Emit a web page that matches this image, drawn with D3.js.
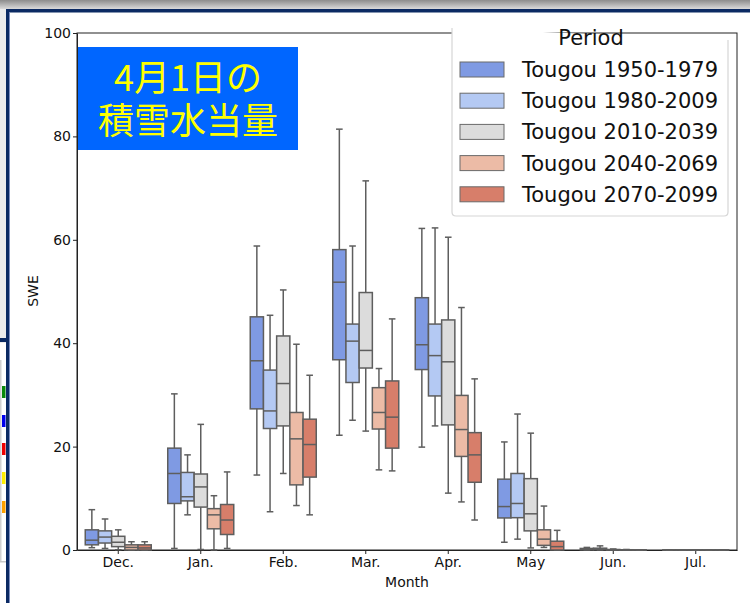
<!DOCTYPE html>
<html>
<head>
<meta charset="utf-8">
<script src="https://cdn.jsdelivr.net/npm/d3@7"></script>
<style>
  body { margin: 0; background: #fff; }
  svg { display: block; font-family: "DejaVu Sans", sans-serif; }
</style>
</head>
<body>
<svg id="main" width="750" height="603"></svg>
<script>
// months on the x axis
var months = ["Dec.", "Jan.", "Feb.", "Mar.", "Apr.", "May", "Jun.", "Jul."]
var periods = ["Tougou 1950-1979", "Tougou 1980-2009", "Tougou 2010-2039", "Tougou 2040-2069", "Tougou 2070-2099"]
var colors = ["#7f9ae3", "#b4c9f3", "#dcdcdc", "#ecbba6", "#d77e6a"]
var yTicks = [0, 20, 40, 60, 80, 100]

// [whisker low, q1, median, q3, whisker high] for every month
var p1950 = [[0.45, 1.0, 1.9, 3.9, 7.8], [0.3, 9.0, 14.8, 19.7, 30.2], [14.5, 27.3, 36.6, 45.1, 58.8],
             [22.2, 36.8, 51.8, 58.1, 81.4], [19.9, 34.9, 39.7, 48.8, 62.2], [1.5, 6.2, 8.4, 13.7, 20.9],
             [0, 0.05, 0.1, 0.3, 0.5], [0, 0, 0, 0.02, 0.05]]
var p1980 = [[0.3, 1.35, 2.5, 3.7, 6.0], [6.8, 9.5, 10.3, 15.0, 18.4], [7.4, 23.5, 26.9, 34.8, 45.4],
             [25.1, 32.4, 40.4, 43.7, 58.8], [24.0, 29.8, 37.6, 43.7, 62.3], [2.1, 6.25, 9.0, 14.8, 26.3],
             [0, 0.05, 0.15, 0.35, 0.8], [0, 0, 0, 0.02, 0.05]]
var p2010 = [[0.05, 0.65, 1.5, 2.65, 3.9], [0.1, 8.3, 12.2, 14.7, 24.3], [14.8, 24.0, 32.2, 41.4, 50.3],
             [23.0, 35.2, 38.6, 49.8, 71.4], [11.0, 24.2, 36.4, 44.5, 60.5], [0.4, 3.7, 7.0, 13.8, 22.6],
             [0, 0, 0.05, 0.1, 0.2], [0, 0, 0, 0.02, 0.05]]
var p2040 = [[0, 0, 0.5, 1.0, 1.6], [0, 4.1, 6.8, 8.0, 10.5], [8.6, 12.6, 21.5, 26.6, 39.8],
             [15.5, 23.4, 26.6, 31.4, 35.1], [9.3, 18.1, 23.3, 29.9, 46.9], [0.5, 0.9, 2.1, 3.9, 8.5],
             [0, 0, 0, 0.05, 0.1], [0, 0, 0, 0.02, 0.05]]
var p2070 = [[0, 0, 0.4, 1.0, 1.6], [0.3, 3.0, 5.8, 8.8, 15.1], [6.8, 14.1, 20.4, 25.3, 33.8],
             [15.3, 19.7, 25.7, 32.7, 44.7], [5.8, 13.1, 18.4, 22.7, 33.1], [0, 0, 0.65, 1.7, 3.8],
             [0, 0, 0, 0.03, 0.05], [0, 0, 0, 0.02, 0.05]]
var stats = [p1950, p1980, p2010, p2040, p2070]

var svg = d3.select('#main')

// window frame around the screenshot
var grad = svg.append('defs').append('linearGradient')
    .attr('id', 'topbar').attr('x1', 0).attr('x2', 0).attr('y1', 0).attr('y2', 1)
grad.append('stop').attr('offset', '0%').attr('stop-color', '#8c8c8c')
grad.append('stop').attr('offset', '100%').attr('stop-color', '#dadada')
svg.append('rect').attr('x', 0).attr('y', 0).attr('width', 750).attr('height', 9).attr('fill', 'url(#topbar)')
svg.append('rect').attr('x', 0).attr('y', 9).attr('width', 7).attr('height', 594).attr('fill', '#ececec')
svg.append('rect').attr('x', 0).attr('y', 343).attr('width', 7).attr('height', 260).attr('fill', '#fff')
svg.append('rect').attr('x', 0).attr('y', 360).attr('width', 1.5).attr('height', 202).attr('fill', '#d0d0d0')
svg.append('rect').attr('x', 0).attr('y', 561).attr('width', 6).attr('height', 1.5).attr('fill', '#c8c8c8')
svg.append('rect').attr('x', 0).attr('y', 338).attr('width', 7).attr('height', 4).attr('fill', '#0b2a63')
var marks = [["#0a8a0a", 386], ["#0000ee", 415], ["#ee0000", 443], ["#ffee00", 472], ["#ffa000", 501]]
svg.selectAll('rect.mark').data(marks).enter().append('rect').attr('class', 'mark')
    .attr('x', 2).attr('y', function(d) { return d[1] }).attr('width', 3.5).attr('height', 12)
    .attr('fill', function(d) { return d[0] })
svg.append('rect').attr('x', 6).attr('y', 9).attr('width', 744).attr('height', 3.5).attr('fill', '#0b2a63')
svg.append('rect').attr('x', 6).attr('y', 9).attr('width', 3).attr('height', 594).attr('fill', '#0b2a63')
svg.append('rect').attr('x', 9).attr('y', 12).attr('width', 1).attr('height', 591).attr('fill', '#7d8fc0')

var x = d3.scaleBand().domain(months).range([77, 737]).padding(0)
var y = d3.scaleLinear().domain([0, 100]).range([550, 33])
var inner = d3.scaleBand().domain(d3.range(periods.length))
    .range([x.bandwidth() * 0.1, x.bandwidth() * 0.9])

// plot frame
svg.append('rect').attr('x', 77).attr('y', 33).attr('width', 660).attr('height', 517)
    .attr('fill', 'none').attr('stroke', '#222').attr('stroke-width', 1)

var yAxis = svg.append('g').attr('transform', 'translate(77,0)')
    .call(d3.axisLeft(y).tickValues(yTicks).tickSize(4).tickSizeOuter(0))
var xAxis = svg.append('g').attr('transform', 'translate(0,550)')
    .call(d3.axisBottom(x).tickSize(4).tickSizeOuter(0))
svg.selectAll('.domain').attr('stroke', '#222')
svg.selectAll('.tick line').attr('stroke', '#222')
svg.selectAll('.tick text').attr('fill', '#111').style('font-size', '14px')
    .style('font-family', '"DejaVu Sans", sans-serif')
yAxis.selectAll('.tick text').attr('x', -6)
xAxis.selectAll('.tick text').attr('y', 7)

svg.append('text').attr('x', 407).attr('y', 587).attr('text-anchor', 'middle')
    .style('font-size', '14px').attr('fill', '#111').text('Month')
svg.append('text').attr('transform', 'translate(38,291) rotate(-90)').attr('text-anchor', 'middle')
    .style('font-size', '14px').attr('fill', '#111').text('SWE')

// boxes
var boxes = []
stats.forEach(function(series, p) {
    series.forEach(function(s, m) {
        boxes.push({ month: months[m], p: p, lo: s[0], q1: s[1], med: s[2], q3: s[3], hi: s[4] })
    })
})
var edge = '#5e5e5e'
var g = svg.selectAll('g.box').data(boxes).enter().append('g').attr('class', 'box')
    .attr('transform', function(d) { return 'translate(' + (x(d.month) + inner(d.p)) + ',0)' })
var w = inner.bandwidth()
g.append('line').attr('x1', w / 2).attr('x2', w / 2)
    .attr('y1', function(d) { return y(d.lo) }).attr('y2', function(d) { return y(d.hi) })
    .attr('stroke', edge).attr('stroke-width', 1.5)
g.selectAll('line.cap').data(function(d) { return [d.lo, d.hi] }).enter().append('line').attr('class', 'cap')
    .attr('x1', w * 0.25).attr('x2', w * 0.75)
    .attr('y1', function(v) { return y(v) }).attr('y2', function(v) { return y(v) })
    .attr('stroke', edge).attr('stroke-width', 1.5)
g.append('rect').attr('x', 0).attr('width', w)
    .attr('y', function(d) { return y(d.q3) })
    .attr('height', function(d) { return Math.max(y(d.q1) - y(d.q3), 0.01) })
    .attr('fill', function(d) { return colors[d.p] })
    .attr('stroke', edge).attr('stroke-width', 1.5)
g.append('line').attr('x1', 0).attr('x2', w)
    .attr('y1', function(d) { return y(d.med) }).attr('y2', function(d) { return y(d.med) })
    .attr('stroke', edge).attr('stroke-width', 1.5)

// legend
var leg = svg.append('g')
leg.append('path').attr('d', 'M452,28 V212 Q452,216 456,216 H724 Q728,216 728,212 V40')
    .attr('fill', '#fff').attr('stroke', '#d6d6d6').attr('stroke-width', 1.2)
leg.append('text').attr('x', 591).attr('y', 45).attr('text-anchor', 'middle')
    .style('font-size', '21px').attr('fill', '#111').text('Period')
var rows = leg.selectAll('g.row').data(periods).enter().append('g').attr('class', 'row')
    .attr('transform', function(_, i) { return 'translate(0,' + (69.5 + i * 31.2) + ')' })
rows.append('rect').attr('x', 460).attr('y', -7.5).attr('width', 44).attr('height', 15)
    .attr('fill', function(_, i) { return colors[i] }).attr('stroke', '#6a6a6a').attr('stroke-width', 1)
rows.append('text').attr('x', 522).attr('y', 7.5).style('font-size', '21px').attr('fill', '#111')
    .text(function(d) { return d })

// title badge
svg.append('rect').attr('x', 78).attr('y', 47).attr('width', 220).attr('height', 103).attr('fill', '#0066ff')
var title = svg.append('text').attr('text-anchor', 'middle').attr('fill', '#ffff00')
    .style('font-family', '"Noto Sans CJK JP", sans-serif').style('font-size', '36px')
title.append('tspan').attr('x', 188).attr('y', 91).text('4月1日の')
title.append('tspan').attr('x', 188).attr('y', 134).text('積雪水当量')
</script>
</body>
</html>
